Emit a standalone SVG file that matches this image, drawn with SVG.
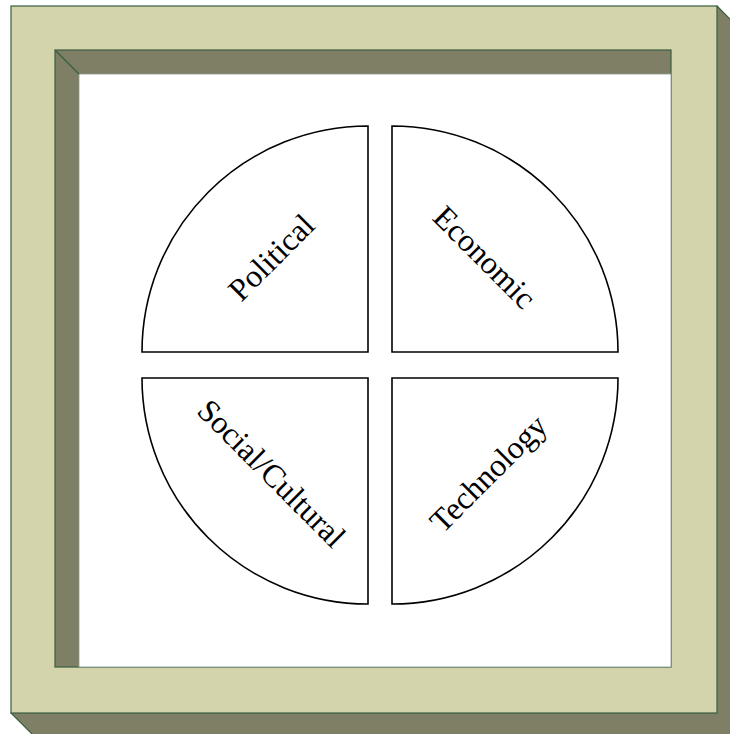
<svg xmlns="http://www.w3.org/2000/svg" width="730" height="734" viewBox="0 0 730 734">
<style>
.frame{stroke:#3A5E40;stroke-width:1.2}
.light{fill:#D3D3AC}
.dark{fill:#7F7F66}
.q{fill:#FFFFFF;stroke:#000000;stroke-width:1.6}
.t{font-family:"Liberation Serif","Times New Roman",serif;font-size:32px;fill:#000000;text-anchor:middle}
</style>
<rect width="730" height="734" fill="#FFFFFF"/>
<g id="frame">
<polygon class="frame dark" points="717,6 745,34 745,745 43,745 11,713"/>
<rect class="frame light" x="11" y="6" width="706" height="707"/>
<rect class="frame dark" x="55" y="50" width="616" height="617"/>
<rect x="79" y="74" width="592" height="593" fill="#FFFFFF" stroke="#8A9A8A" stroke-width="0.8"/>
<line class="frame" x1="55" y1="50" x2="79" y2="74"/>
</g>
<g id="political">
<path class="q" d="M368 352 L142 352 A226 226 0 0 1 368 126 Z"/>
<text class="t" transform="translate(271 257) rotate(-45)" dy="0.35em">Political</text>
</g>
<g id="economic">
<path class="q" d="M392 352 L392 126 A226 226 0 0 1 618 352 Z"/>
<text class="t" transform="translate(485 257) rotate(45)" dy="0.35em">Economic</text>
</g>
<g id="social">
<path class="q" d="M368 378 L368 604 A226 226 0 0 1 142 378 Z"/>
<text class="t" transform="translate(272 473) rotate(45)" dy="0.35em">Social/Cultural</text>
</g>
<g id="technology">
<path class="q" d="M392 378 L618 378 A226 226 0 0 1 392 604 Z"/>
<text class="t" transform="translate(488 473) rotate(-45)" dy="0.35em">Technology</text>
</g>
<g id="connectors"></g>
</svg>
